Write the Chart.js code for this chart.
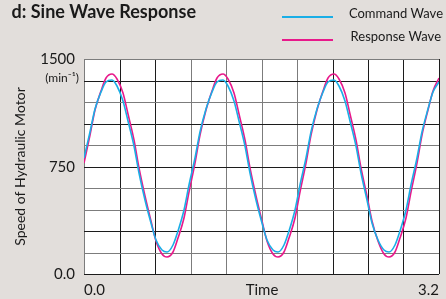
<!DOCTYPE html>
<html>
<head>
<meta charset="utf-8">
<script src="https://cdn.jsdelivr.net/npm/chart.js@4/dist/chart.umd.min.js"></script>
<style>
  html, body { margin: 0; padding: 0; background: #e2dedb; }
  #wrap { width: 446px; height: 299px; position: relative; }
</style>
</head>
<body>
<div id="wrap"><canvas id="sineChart"></canvas></div>
<script>
// values
const chartTitle = 'd: Sine Wave Response';
const unitLabel = '(min\u207B\u00B9)';
const yTitle = 'Speed of Hydraulic Motor';

const times = [0, 0.05, 0.1, 0.15, 0.2, 0.25, 0.3, 0.35, 0.4, 0.45, 0.5, 0.55, 0.6, 0.65, 0.7, 0.75, 0.8, 0.85, 0.9, 0.95,
  1, 1.05, 1.1, 1.15, 1.2, 1.25, 1.3, 1.35, 1.4, 1.45, 1.5, 1.55, 1.6, 1.65, 1.7, 1.75, 1.8, 1.85, 1.9, 1.95,
  2, 2.05, 2.1, 2.15, 2.2, 2.25, 2.3, 2.35, 2.4, 2.45, 2.5, 2.55, 2.6, 2.65, 2.7, 2.75, 2.8, 2.85, 2.9, 2.95,
  3, 3.05, 3.1, 3.15, 3.2];

const commandWave = [808, 991, 1151, 1272, 1343, 1356, 1310, 1210, 1065, 890, 702, 519, 359, 238, 167, 154, 200, 300, 445, 620,
  808, 991, 1151, 1272, 1343, 1356, 1310, 1210, 1065, 890, 702, 519, 359, 238, 167, 154, 200, 300, 445, 620,
  808, 991, 1151, 1272, 1343, 1356, 1310, 1210, 1065, 890, 702, 519, 359, 238, 167, 154, 200, 300, 445, 620,
  808, 991, 1151, 1272, 1343];

const responseWave = [771, 967, 1143, 1280, 1367, 1393, 1357, 1262, 1117, 937, 739, 543, 367, 230, 143, 117, 153, 248, 393, 573,
  771, 967, 1143, 1280, 1367, 1393, 1357, 1262, 1117, 937, 739, 543, 367, 230, 143, 117, 153, 248, 393, 573,
  771, 967, 1143, 1280, 1367, 1393, 1357, 1262, 1117, 937, 739, 543, 367, 230, 143, 117, 153, 248, 393, 573,
  771, 967, 1143, 1280, 1367];

const seriesNames = ['Command Wave', 'Response Wave'];
const seriesColors = ['#1aaee6', '#e8198b'];

const yTickValues = [0, 750, 1500];
const yTickText = ['0.0', '750', '1500'];
const xTickValues = [0, 1.6, 3.2];
const xTickText = ['0.0', 'Time', '3.2'];

// grid lines in the picture alternate dark / grey
const BLK = '#1c1c1c', GRY = '#7c7c7c';
const xGridColors = [GRY, BLK, BLK, GRY, GRY, GRY, GRY, BLK, BLK, BLK, BLK];
const yGridColors = [BLK, GRY, BLK, GRY, GRY, BLK, GRY, BLK, GRY, BLK, GRY];

function pickLabel(value, values, texts) {
  for (let i = 0; i < values.length; i++) {
    if (Math.abs(value - values[i]) < 1e-6) return texts[i];
  }
  return '';
}

const decorPlugin = {
  id: 'decor',
  beforeDraw(chart) {
    const { ctx, chartArea: a } = chart;
    ctx.save();
    ctx.fillStyle = '#ffffff';
    ctx.fillRect(a.left, a.top, a.right - a.left, a.bottom - a.top);
    ctx.restore();
  },
  afterDraw(chart) {
    const ctx = chart.ctx;
    ctx.save();
    // title (cut off at the left edge like the original)
    ctx.fillStyle = '#1a1a1a';
    ctx.font = 'bold 18px Lato';
    ctx.textAlign = 'right';
    ctx.textBaseline = 'alphabetic';
    ctx.fillText(chartTitle, 196, 18);

    // legend: line sample then right aligned text
    chart.data.datasets.forEach((ds, i) => {
      const y = 17 + i * 23;
      ctx.strokeStyle = ds.borderColor;
      ctx.lineWidth = 2;
      ctx.beginPath();
      ctx.moveTo(282, y);
      ctx.lineTo(333, y);
      ctx.stroke();
      ctx.font = '13px Lato';
      ctx.textAlign = 'right';
      ctx.textBaseline = 'middle';
      ctx.fillStyle = '#1a1a1a';
      ctx.fillText(ds.label, 443 - i * 2, y - 3);
    });

    // unit under the top tick
    ctx.font = '12px Lato';
    ctx.textAlign = 'right';
    ctx.textBaseline = 'middle';
    ctx.fillText(unitLabel, 79, 78);
    ctx.restore();
  }
};

const ctx = document.getElementById('sineChart').getContext('2d');
const sineChart = new Chart(ctx, {
  type: 'line',
  data: {
    datasets: [
      {
        label: seriesNames[0],
        data: times.map((t, i) => ({ x: t, y: commandWave[i] })),
        borderColor: seriesColors[0],
        borderWidth: 1.6,
        pointRadius: 0,
        cubicInterpolationMode: 'monotone'
      },
      {
        label: seriesNames[1],
        data: times.map((t, i) => ({ x: t, y: responseWave[i] })),
        borderColor: seriesColors[1],
        borderWidth: 1.6,
        pointRadius: 0,
        cubicInterpolationMode: 'monotone'
      }
    ]
  },
  options: {
    responsive: true,
    maintainAspectRatio: false,
    animation: false,
    layout: { padding: { left: 0, right: 5, top: 59, bottom: 0 } },
    plugins: {
      legend: { display: false },
      title: { display: false },
      tooltip: { enabled: false }
    },
    scales: {
      x: {
        type: 'linear',
        min: 0,
        max: 3.2,
        alignToPixels: true,
        border: { display: false },
        grid: {
          drawTicks: false,
          lineWidth: 1,
          color: c => xGridColors[c.index] || BLK
        },
        ticks: {
          stepSize: 0.32,
          autoSkip: false,
          maxRotation: 0,
          align: 'inner',
          padding: 7,
          color: '#1a1a1a',
          font: { family: 'Lato', size: 15 },
          callback: v => pickLabel(v, xTickValues, xTickText)
        },
        afterFit: s => { s.height = 25; }
      },
      y: {
        min: 0,
        max: 1500,
        alignToPixels: true,
        border: { display: false },
        grid: {
          drawTicks: false,
          lineWidth: 1,
          color: c => yGridColors[c.index] || BLK
        },
        ticks: {
          stepSize: 150,
          autoSkip: false,
          padding: 9,
          color: '#1a1a1a',
          font: { family: 'Lato', size: 15 },
          callback: v => pickLabel(v, yTickValues, yTickText)
        },
        title: {
          display: true,
          text: yTitle,
          color: '#1a1a1a',
          font: { family: 'Lato', size: 14 },
          padding: { top: 12, bottom: 0 }
        },
        afterFit: s => { s.width = 84; }
      }
    }
  },
  plugins: [decorPlugin]
});
</script>
</body>
</html>
